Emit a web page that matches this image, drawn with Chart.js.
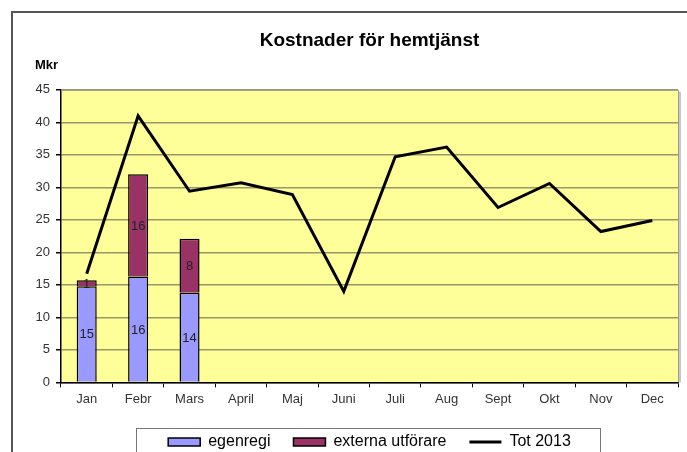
<!DOCTYPE html>
<html>
<head>
<meta charset="utf-8">
<script src="https://cdn.jsdelivr.net/npm/chart.js@4/dist/chart.umd.min.js"></script>
<style>
  html, body { margin: 0; padding: 0; background: #fff; }
  #wrap { position: relative; width: 687px; height: 452px; overflow: hidden; }
  #frame { position: absolute; left: 11px; top: 11px; width: 800px; height: 600px;
           border-left: 2px solid #555; border-top: 2px solid #555; pointer-events: none; }
</style>
</head>
<body>
<div id="wrap">
  <div id="frame"></div>
  <canvas id="chart" width="687" height="452"></canvas>
</div>
<script>
const months = ['Jan', 'Febr', 'Mars', 'April', 'Maj', 'Juni', 'Juli', 'Aug', 'Sept', 'Okt', 'Nov', 'Dec'];
const egenregi = [14.8, 16.3, 13.8, null, null, null, null, null, null, null, null, null];
const externa = [0.9, 15.7, 8.3, null, null, null, null, null, null, null, null, null];
const tot2013 = [16.7, 41.0, 29.4, 30.7, 28.9, 14.0, 34.7, 36.2, 26.9, 30.6, 23.2, 24.9];
const yTicks = [0, 5, 10, 15, 20, 25, 30, 35, 40, 45];

const FONT = "'Liberation Sans', Arial, sans-serif";

// bakgrund i plotytan + ram
const plotBg = {
    id: 'plotBg',
    beforeDraw(chart) {
        const { ctx, chartArea: a } = chart;
        ctx.save();
        ctx.fillStyle = '#FFFF99';
        ctx.fillRect(a.left, a.top, a.right - a.left, a.bottom - a.top);
        ctx.restore();
    },
    afterDraw(chart) {
        const { ctx, chartArea: a } = chart;
        ctx.save();
        ctx.strokeStyle = '#9a9a9a';
        ctx.lineWidth = 1;
        ctx.beginPath();
        ctx.moveTo(a.left, a.top + 0.5);
        ctx.lineTo(a.right + 0.5, a.top + 0.5);
        ctx.lineTo(a.right + 0.5, a.bottom);
        ctx.stroke();
        ctx.strokeStyle = '#c8c8c8';
        ctx.lineWidth = 2;
        ctx.beginPath();
        ctx.moveTo(a.right + 2, a.top + 2);
        ctx.lineTo(a.right + 2, a.bottom);
        ctx.stroke();
        // enhet
        ctx.fillStyle = '#000';
        ctx.font = 'bold 13px ' + FONT;
        ctx.textAlign = 'left';
        ctx.textBaseline = 'middle';
        ctx.fillText('Mkr', 35, 65);
        // ram runt förklaringen
        const boxes = chart.legend.legendHitBoxes;
        if (boxes && boxes.length) {
            const l = Math.min(...boxes.map(b => b.left));
            const r = Math.max(...boxes.map(b => b.left + b.width));
            const t = Math.min(...boxes.map(b => b.top));
            ctx.strokeStyle = '#777';
            ctx.lineWidth = 1;
            ctx.strokeRect(Math.round(l - 32) + 0.5, Math.round(t - 6) + 0.5, Math.round(r - l + 61), 60);
        }
        ctx.restore();
    }
};

// värden i staplarna
const barLabels = {
    id: 'barLabels',
    afterDatasetsDraw(chart) {
        const { ctx } = chart;
        ctx.save();
        ctx.font = '13px ' + FONT;
        ctx.fillStyle = '#222';
        ctx.textAlign = 'center';
        ctx.textBaseline = 'middle';
        chart.data.datasets.forEach((ds, i) => {
            if (ds.type !== 'bar') return;
            chart.getDatasetMeta(i).data.forEach((bar, j) => {
                const v = ds.data[j];
                if (v == null) return;
                const { x, y, base } = bar.getProps(['x', 'y', 'base'], true);
                ctx.fillText(Math.round(v), x, (y + base) / 2 + 1);
            });
        });
        ctx.restore();
    }
};

new Chart(document.getElementById('chart'), {
    data: {
        labels: months,
        datasets: [
            {
                type: 'bar',
                label: 'egenregi',
                data: egenregi,
                backgroundColor: '#9999FF',
                borderColor: '#000',
                borderWidth: 1.5,
                stack: 'bars',
                order: 1,
                categoryPercentage: 1,
                barPercentage: 0.39
            },
            {
                type: 'bar',
                label: 'externa utförare',
                data: externa,
                backgroundColor: '#993366',
                borderColor: '#000',
                borderWidth: 1.5,
                stack: 'bars',
                order: 1,
                categoryPercentage: 1,
                barPercentage: 0.39
            },
            {
                type: 'line',
                label: 'Tot 2013',
                data: tot2013,
                borderColor: '#000',
                backgroundColor: '#000',
                borderWidth: 3,
                pointRadius: 0,
                tension: 0,
                stack: 'tot',
                order: 0
            }
        ]
    },
    options: {
        responsive: false,
        animation: false,
        layout: { padding: { top: 0, right: 9, bottom: 0, left: 0 } },
        scales: {
            x: {
                stacked: true,
                offset: true,
                grid: { drawOnChartArea: false, drawTicks: true, tickLength: 5, tickColor: '#000', lineWidth: 1 },
                border: { color: '#000', width: 1.5 },
                ticks: { color: '#333', font: { size: 13, family: FONT }, padding: 4, maxRotation: 0, autoSkip: false }
            },
            y: {
                stacked: true,
                min: 0,
                max: 45,
                afterBuildTicks(scale) { scale.ticks = yTicks.map(v => ({ value: v })); },
                grid: { color: '#97976c', lineWidth: 1.5, tickLength: 5, tickColor: '#000' },
                border: { color: '#000', width: 1.5 },
                ticks: { color: '#333', font: { size: 13, family: FONT }, padding: 6 },
                afterFit(scale) { scale.width = 61; }
            }
        },
        plugins: {
            title: {
                display: true,
                text: 'Kostnader för hemtjänst',
                fullSize: false,
                color: '#000',
                font: { size: 19, weight: 'bold', family: FONT, lineHeight: 1.2 },
                padding: { top: 29, bottom: 38 }
            },
            legend: {
                position: 'bottom',
                fullSize: false,
                maxHeight: 41,
                labels: {
                    color: '#000',
                    font: { size: 16, family: FONT },
                    padding: 23,
                    usePointStyle: true,
                    pointStyleWidth: 32,
                    boxHeight: 8,
                    sort: (a, b) => a.datasetIndex - b.datasetIndex,
                    generateLabels(chart) {
                        const items = Chart.defaults.plugins.legend.labels.generateLabels(chart);
                        items.forEach(it => {
                            it.pointStyle = chart.data.datasets[it.datasetIndex].type === 'line' ? 'line' : 'rect';
                        });
                        return items;
                    }
                }
            },
            tooltip: { enabled: false }
        }
    },
    plugins: [plotBg, barLabels]
});
</script>
</body>
</html>
